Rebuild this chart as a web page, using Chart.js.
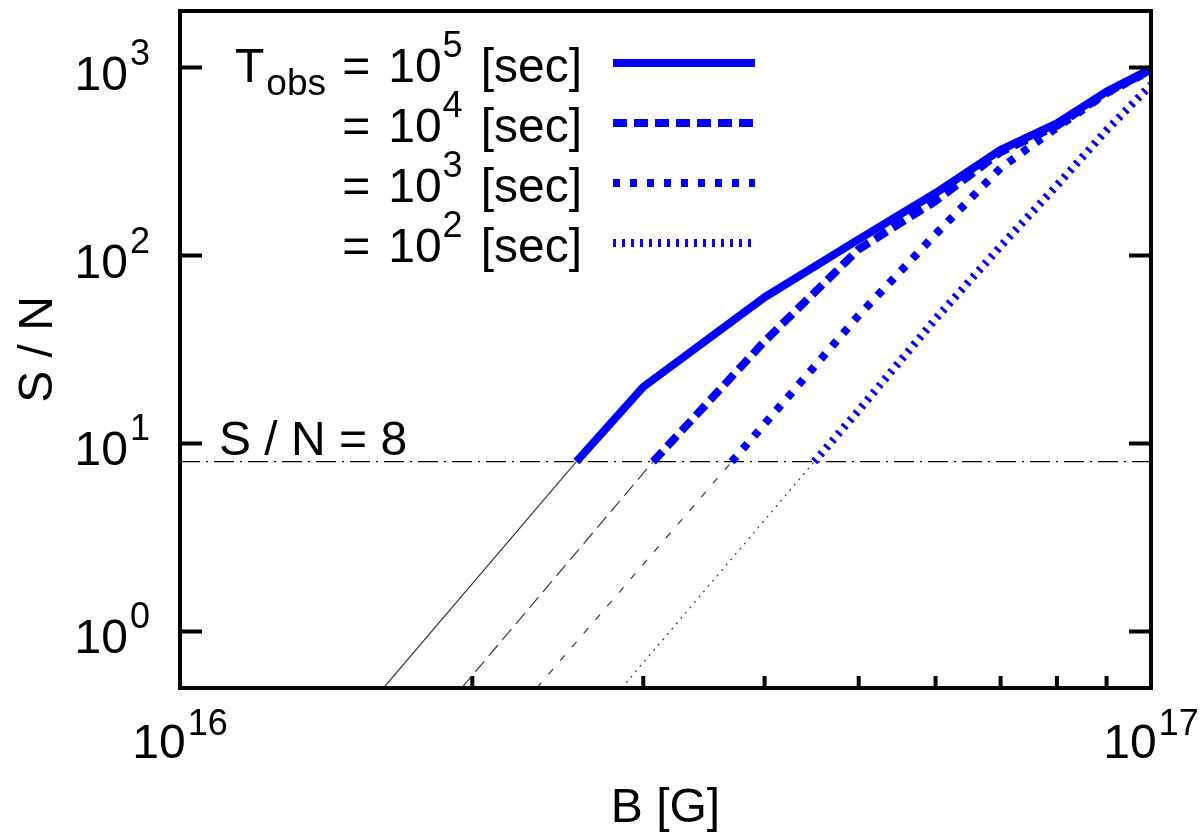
<!DOCTYPE html>
<html>
<head>
<meta charset="utf-8">
<script src="https://cdn.jsdelivr.net/npm/chart.js@4.4.1/dist/chart.umd.min.js"></script>
<style>
  html, body { margin: 0; background: #fff; }
  #wrap { width: 1203px; height: 840px; }
</style>
</head>
<body>
<div id="wrap"><canvas id="snChart"></canvas></div>
<script>
// S/N against field strength B [G], one curve per observation time
const b5 = [2.56e16, 3e16, 4e16, 5e16, 6e16, 7e16, 8e16, 9e16, 1e17];
const sn5 = [8, 20, 60, 122, 215, 365, 505, 745, 985];

const b4 = [3.07e16, 4e16, 5e16, 6e16, 7e16, 8e16, 9e16, 1e17];
const sn4 = [8, 35, 108, 195, 355, 490, 735, 975];

const b3 = [3.70e16, 4e16, 5e16, 6e16, 7e16, 8e16, 9e16, 1e17];
const sn3 = [8, 12.7, 48, 130, 292, 480, 730, 965];

const b2 = [4.50e16, 5e16, 6e16, 7e16, 8e16, 9e16, 1e17];
const sn2 = [8, 15, 46, 112, 236, 464, 810];

// below-threshold continuations (thin lines)
const ext5 = { b: [1.62e16, 2.56e16], sn: [0.5, 8] };
const ext4 = { b: [1.95e16, 3.07e16], sn: [0.5, 8] };
const ext3 = { b: [2.33e16, 3.70e16], sn: [0.5, 8] };
const ext2 = { b: [2.85e16, 4.50e16], sn: [0.5, 8] };

const threshold = 8;
const tobsExp = ['5', '4', '3', '2'];

const yTicks = [1, 10, 100, 1000];
const yTickExp = ['0', '1', '2', '3'];
const xTicks = [1e16, 1e17];
const xTickExp = ['16', '17'];
const xMinor = [2e16, 3e16, 4e16, 5e16, 6e16, 7e16, 8e16, 9e16];

const FONT = '"Liberation Sans", Arial, Helvetica, sans-serif';
const BLUE = '#0000ff';
const thickDash = [[], [14, 7], [7, 10], [3, 6]];
const thinDash = [[], [14, 7], [7, 11], [2, 5]];

const pts = (xs, ys) => xs.map((x, i) => ({ x, y: ys[i] }));

// text made of runs: [text, size, dy, gapBefore]
function runs(ctx, parts, x, y, align) {
  let w = 0;
  parts.forEach((p) => {
    ctx.font = p[1] + 'px ' + FONT;
    w += (p[3] || 0) + ctx.measureText(p[0]).width;
  });
  let cx = align === 'right' ? x - w : align === 'center' ? x - w / 2 : x;
  ctx.textAlign = 'left';
  ctx.textBaseline = 'alphabetic';
  parts.forEach((p) => {
    ctx.font = p[1] + 'px ' + FONT;
    cx += p[3] || 0;
    ctx.fillText(p[0], cx, y + (p[2] || 0));
    cx += ctx.measureText(p[0]).width;
  });
}

const framePlugin = {
  id: 'frame',
  afterDraw(chart) {
    const { ctx, chartArea: a, scales } = chart;
    const xs = scales.x, ys = scales.y;
    ctx.save();
    ctx.fillStyle = '#000';
    ctx.strokeStyle = '#000';

    // ticks
    ctx.lineWidth = 4;
    ctx.beginPath();
    yTicks.forEach((v) => {
      const py = ys.getPixelForValue(v);
      ctx.moveTo(a.left, py); ctx.lineTo(a.left + 22, py);
      ctx.moveTo(a.right, py); ctx.lineTo(a.right - 22, py);
    });
    xMinor.forEach((v) => {
      const px = xs.getPixelForValue(v);
      ctx.moveTo(px, a.bottom); ctx.lineTo(px, a.bottom - 12);
    });
    ctx.stroke();
    ctx.strokeRect(a.left, a.top, a.right - a.left, a.bottom - a.top);

    // tick labels
    yTicks.forEach((v, i) => {
      runs(ctx, [['10', 48], [yTickExp[i], 36, -25, 2]], a.left - 30, ys.getPixelForValue(v) + 22, 'right');
    });
    xTicks.forEach((v, i) => {
      runs(ctx, [['10', 48], [xTickExp[i], 36, -23, 2]], xs.getPixelForValue(v), 758, 'center');
    });

    // axis titles
    ctx.font = '48px ' + FONT;
    ctx.textAlign = 'center';
    ctx.fillText('B [G]', (a.left + a.right) / 2, 822);
    ctx.save();
    ctx.translate(52, (a.top + a.bottom) / 2);
    ctx.rotate(-Math.PI / 2);
    ctx.fillText('S / N', 0, 0);
    ctx.restore();

    // threshold label
    runs(ctx, [['S / N = ' + threshold, 48]], 219, 455, 'left');

    // legend
    runs(ctx, [['T', 48], ['obs', 37, 13, 2]], 235, 82, 'left');
    chart.data.datasets.slice(0, 4).forEach((ds, i) => {
      const base = 82 + 60 * i;
      runs(ctx, [['=', 48], ['10', 48, 0, 18], [tobsExp[i], 36, -25, 1], ['[sec]', 48, 0, 18]], 582, base, 'right');
      ctx.save();
      ctx.strokeStyle = ds.borderColor;
      ctx.lineWidth = ds.borderWidth;
      ctx.lineCap = 'butt';
      ctx.setLineDash(ds.borderDash);
      ctx.beginPath();
      ctx.moveTo(613, base - 19);
      ctx.lineTo(755, base - 19);
      ctx.stroke();
      ctx.restore();
    });
    ctx.restore();
  },
};

const thick = (data, i) => ({
  data, borderColor: BLUE, borderWidth: 8, borderDash: thickDash[i],
  borderCapStyle: 'butt', borderJoinStyle: 'round',
});
const thin = (e, i) => ({
  data: pts(e.b, e.sn), borderColor: '#3a3a3a', borderWidth: 1.2, borderDash: thinDash[i],
  borderCapStyle: 'butt',
});

new Chart(document.getElementById('snChart'), {
  type: 'line',
  data: {
    datasets: [
      thick(pts(b5, sn5), 0),
      thick(pts(b4, sn4), 1),
      thick(pts(b3, sn3), 2),
      thick(pts(b2, sn2), 3),
      thin(ext5, 0),
      thin(ext4, 1),
      thin(ext3, 2),
      thin(ext2, 3),
      {
        data: [{ x: 1e16, y: threshold }, { x: 1e17, y: threshold }],
        borderColor: '#000', borderWidth: 1.2, borderDash: [20, 6, 2, 6],
      },
    ],
  },
  options: {
    responsive: true,
    maintainAspectRatio: false,
    animation: false,
    layout: { padding: { left: 180, right: 52, top: 11, bottom: 152 } },
    plugins: { legend: { display: false }, tooltip: { enabled: false } },
    elements: { point: { radius: 0 }, line: { tension: 0 } },
    scales: {
      x: { type: 'logarithmic', min: 1e16, max: 1e17, display: false },
      y: { type: 'logarithmic', min: 0.5, max: 2000, display: false },
    },
  },
  plugins: [framePlugin],
});
</script>
</body>
</html>
